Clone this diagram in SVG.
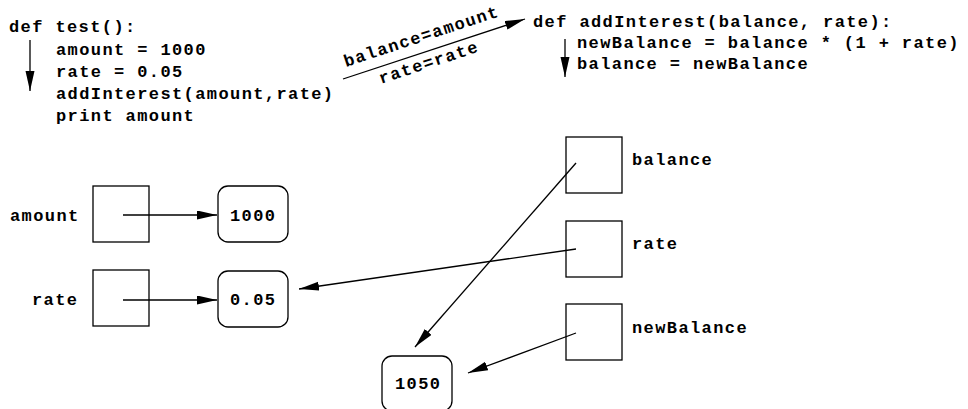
<svg xmlns="http://www.w3.org/2000/svg" width="968" height="409" viewBox="0 0 968 409">
<defs>
<style>
text{font-family:"Liberation Mono","Courier New",monospace;font-weight:bold;font-size:17px;letter-spacing:1.4px;fill:#000}
.box{fill:#fff;stroke:#000;stroke-width:1.3}
.con{stroke:#000;stroke-width:1.3;fill:none;marker-end:url(#ah)}
</style>
<marker id="ah" markerUnits="userSpaceOnUse" markerWidth="21" markerHeight="10" refX="20" refY="4.5" orient="auto">
<path d="M0,0 L20,4.5 L0,9 z" fill="#000"/>
</marker>
</defs>
<rect width="968" height="409" fill="#fff"/>
<g id="code-test">
<text x="9" y="32">def test():</text>
<text x="56" y="55">amount = 1000</text>
<text x="56" y="77">rate = 0.05</text>
<text x="56" y="99">addInterest(amount,rate)</text>
<text x="56" y="121">print amount</text>
</g>
<g id="code-addInterest">
<text x="533" y="27">def addInterest(balance, rate):</text>
<text x="577" y="48">newBalance = balance * (1 + rate)</text>
<text x="577" y="69">balance = newBalance</text>
</g>
<g id="call-labels">
<text transform="translate(346,67) rotate(-18.3)">balance=amount</text>
<text transform="translate(381,84) rotate(-18.3)">rate=rate</text>
</g>
<g id="var-amount">
<text x="10" y="221">amount</text>
<rect class="box" x="93" y="186" width="56" height="56"/>
</g>
<g id="var-rate">
<text x="32" y="305">rate</text>
<rect class="box" x="93" y="270" width="56" height="56"/>
</g>
<g id="val-1000">
<rect class="box" x="218" y="186" width="70" height="56" rx="10"/>
<text x="230" y="221">1000</text>
</g>
<g id="val-005">
<rect class="box" x="218" y="271" width="70" height="56" rx="10"/>
<text x="230" y="305">0.05</text>
</g>
<g id="val-1050">
<rect class="box" x="382" y="356" width="70" height="55" rx="10"/>
<text x="395" y="389">1050</text>
</g>
<g id="var-balance">
<rect class="box" x="566" y="137" width="56" height="56"/>
<text x="632" y="165">balance</text>
</g>
<g id="var-rate2">
<rect class="box" x="566" y="221" width="56" height="56"/>
<text x="632" y="249">rate</text>
</g>
<g id="var-newBalance">
<rect class="box" x="566" y="304" width="56" height="56"/>
<text x="632" y="333">newBalance</text>
</g>
<g id="connectors">
<line class="con" x1="30" y1="40" x2="30" y2="91"/>
<line class="con" x1="565" y1="39" x2="565" y2="77"/>
<line class="con" x1="343" y1="79" x2="525" y2="19"/>
<line class="con" x1="123" y1="215" x2="217" y2="215"/>
<line class="con" x1="123" y1="300" x2="217" y2="300"/>
<line class="con" x1="576" y1="163" x2="415" y2="347"/>
<line class="con" x1="576" y1="249" x2="299" y2="289"/>
<line class="con" x1="576" y1="333" x2="468" y2="373"/>
</g>
</svg>
